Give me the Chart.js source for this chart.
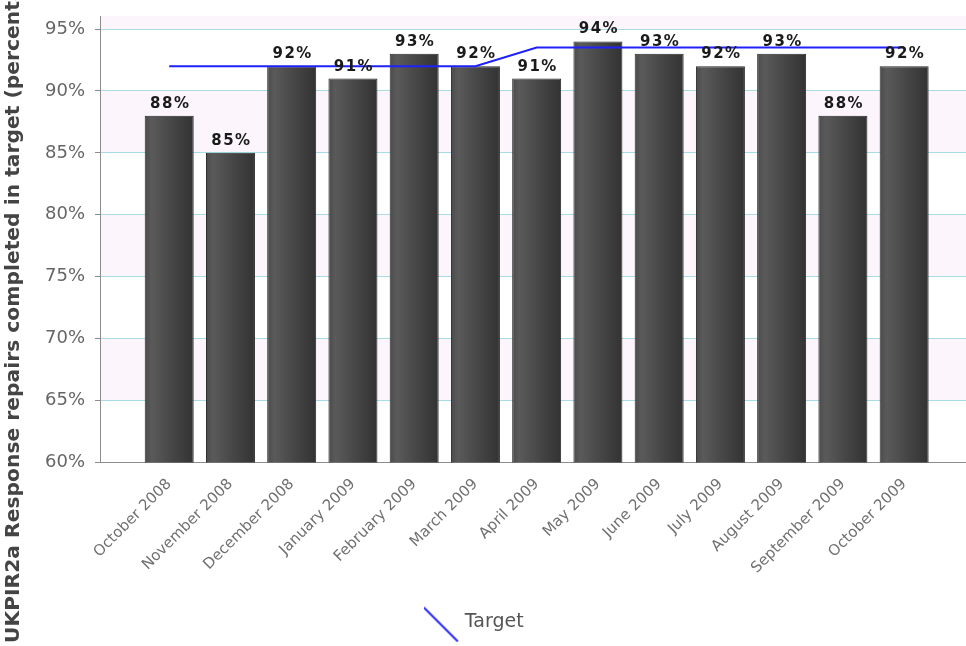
<!DOCTYPE html>
<html>
<head>
<meta charset="utf-8">
<script src="https://cdn.jsdelivr.net/npm/chart.js@4/dist/chart.umd.min.js"></script>
<style>
  html, body { margin: 0; padding: 0; background: #ffffff; }
  #wrap { width: 966px; height: 646px; position: relative; }
</style>
</head>
<body>
<div id="wrap"><canvas id="c" width="966" height="646"></canvas></div>
<script>
// ---- data ----
const categories = ["October 2008", "November 2008", "December 2008", "January 2009", "February 2009", "March 2009", "April 2009", "May 2009", "June 2009", "July 2009", "August 2009", "September 2009", "October 2009"];
const actualValues = [88, 85, 92, 91, 93, 92, 91, 94, 93, 92, 93, 88, 92];
const targetValues = [92, 92, 92, 92, 92, 92, 93.5, 93.5, 93.5, 93.5, 93.5, 93.5, 93.5];
const yTickValues = [60, 65, 70, 75, 80, 85, 90, 95];
const yAxisTitle = "UKPIR2a Response repairs completed in target (percentage)";
const legendLabel = "Target";

// legend glyph: diagonal blue line
const legendGlyph = document.createElement('canvas');
legendGlyph.width = 50; legendGlyph.height = 40;
(function () {
  const g = legendGlyph.getContext('2d');
  g.strokeStyle = '#2a2aff';
  g.lineWidth = 2;
  g.beginPath();
  g.moveTo(25 - 8 - 17, 20 + 2 - 17);
  g.lineTo(25 - 8 + 17, 20 + 2 + 17);
  g.stroke();
})();

const barData = categories.map((c, i) => ({ x: i, y: actualValues[i] }));
const lineData = categories.map((c, i) => ({ x: i, y: targetValues[i] }));

function barGradient(ctx) {
  const chart = ctx.chart;
  const xs = chart.scales && chart.scales.x;
  if (!xs || ctx.type !== 'data') return '#444444';
  const cx = xs.getPixelForValue(ctx.raw.x);
  if (!isFinite(cx)) return '#444444';
  const g = chart.ctx.createLinearGradient(cx - 25, 0, cx + 25, 0);
  g.addColorStop(0, '#4a4a4a');
  g.addColorStop(0.15, '#5a5a5a');
  g.addColorStop(0.6, '#444444');
  g.addColorStop(1, '#323232');
  return g;
}

const bandsPlugin = {
  id: 'bands',
  beforeDraw(chart) {
    const { ctx, chartArea: a, scales: { y } } = chart;
    ctx.save();
    ctx.fillStyle = '#fcf5fc';
    for (let i = 0; i < yTickValues.length; i++) {
      if (i % 2 === 1) {
        const lo = yTickValues[i];
        const hi = i + 1 < yTickValues.length ? yTickValues[i + 1] : y.max;
        const top = y.getPixelForValue(hi);
        const bot = y.getPixelForValue(lo);
        ctx.fillRect(a.left, top, a.right - a.left, bot - top);
      }
    }
    ctx.restore();
  }
};

const labelsPlugin = {
  id: 'barLabels',
  afterDatasetsDraw(chart) {
    const ctx = chart.ctx;
    const meta = chart.getDatasetMeta(1);
    ctx.save();
    ctx.font = 'bold 15px "DejaVu Sans"';
    ctx.fillStyle = '#1a1a1a';
    ctx.textAlign = 'center';
    ctx.textBaseline = 'alphabetic';
    try { ctx.letterSpacing = '1.5px'; } catch (e) {}
    meta.data.forEach((el, i) => {
      ctx.fillText(actualValues[i] + '%', el.x + 1, el.y - 8);
    });
    ctx.restore();
  }
};

const yTitlePlugin = {
  id: 'yTitle',
  afterDraw(chart) {
    const ctx = chart.ctx;
    ctx.save();
    ctx.translate(14, 643);
    ctx.rotate(-Math.PI / 2);
    ctx.font = 'bold 20.3px "DejaVu Sans"';
    ctx.fillStyle = '#444444';
    ctx.textAlign = 'left';
    ctx.textBaseline = 'middle';
    ctx.fillText(yAxisTitle, 0, 0);
    ctx.restore();
  }
};

new Chart(document.getElementById('c'), {
  type: 'bar',
  data: {
    datasets: [
      {
        type: 'line',
        label: legendLabel,
        data: lineData,
        borderColor: '#2020ff',
        borderWidth: 2,
        pointRadius: 0,
        pointHoverRadius: 0,
        pointStyle: legendGlyph,
        fill: false,
        tension: 0,
        order: 0
      },
      {
        type: 'bar',
        label: 'Actual',
        data: barData,
        backgroundColor: barGradient,
        borderColor: '#262626',
        borderWidth: 1,
        barPercentage: 1,
        categoryPercentage: 0.8,
        order: 1
      }
    ]
  },
  options: {
    responsive: false,
    animation: false,
    layout: { padding: { top: 16, bottom: 4, left: 0, right: 0 } },
    plugins: {
      legend: {
        position: 'bottom',
        labels: {
          usePointStyle: true,
          pointStyleWidth: 13,
          color: '#555555',
          font: { family: 'DejaVu Sans', size: 19 },
          filter: (item) => item.text === legendLabel
        }
      },
      tooltip: { enabled: false },
      title: { display: false }
    },
    scales: {
      x: {
        type: 'linear',
        min: -1.13,
        max: 13.01,
        offset: false,
        afterBuildTicks(scale) { scale.ticks = categories.map((c, i) => ({ value: i })); },
        afterFit(scale) { scale.height = 140.5; scale.paddingLeft = 0; scale.paddingRight = 0; },
        grid: { display: false, drawTicks: false },
        border: { display: true, color: '#8c8c8c', width: 1 },
        ticks: {
          autoSkip: false,
          minRotation: 45,
          maxRotation: 45,
          padding: 13,
          color: '#707070',
          font: { family: 'DejaVu Sans', size: 15 },
          callback: (v) => categories[v]
        }
      },
      y: {
        min: 60,
        max: 96.05,
        afterBuildTicks(scale) { scale.ticks = yTickValues.map(v => ({ value: v })); },
        afterFit(scale) { scale.width = 100; scale.paddingTop = 0; scale.paddingBottom = 0; },
        grid: { color: '#a8dce4', lineWidth: 1, tickColor: '#8c8c8c', tickLength: 5, drawTicks: true },
        border: { display: true, color: '#8c8c8c', width: 1 },
        ticks: {
          padding: 10,
          color: '#666666',
          font: { family: 'DejaVu Sans', size: 18 },
          callback: (v) => v + '%'
        }
      }
    }
  },
  plugins: [bandsPlugin, labelsPlugin, yTitlePlugin]
});
</script>
</body>
</html>
